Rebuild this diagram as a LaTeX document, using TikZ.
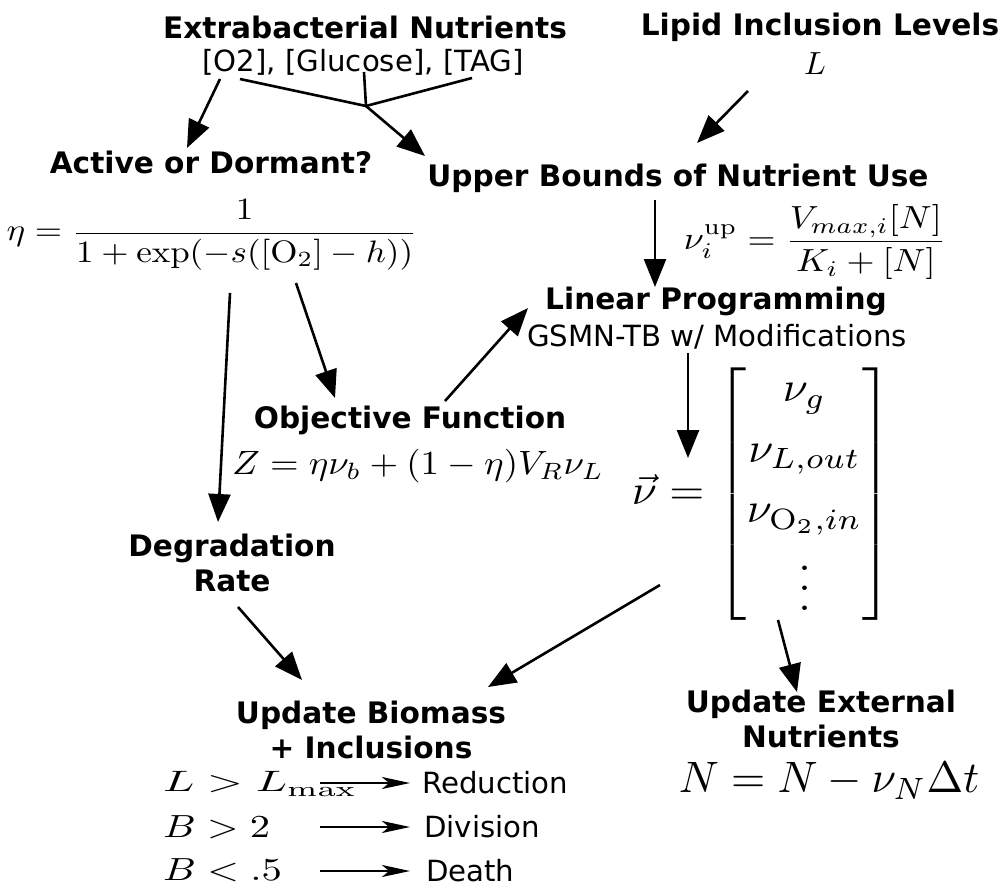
\RequirePackage{fix-cm}
\documentclass[tikz,border=0pt]{standalone}
\usepackage{amsmath}
\usepackage[no-math]{fontspec}
\setmainfont{DejaVu Sans}
\usetikzlibrary{arrows.meta}
\newcommand{\myvdots}{\vbox{\baselineskip4.7pt\lineskiplimit0pt\kern6pt\hbox{$.$}\hbox{$.$}\hbox{$.$}}}
\begin{document}
\begin{tikzpicture}[x=1pt,y=-1pt,
  hd/.style={font=\fontsize{29.6}{35}\selectfont\bfseries, align=center, inner sep=0pt},
  tx/.style={font=\fontsize{29.2}{35}\selectfont, inner sep=0pt},
  mth/.style={inner sep=0pt, font=\fontsize{10}{12}\selectfont},
  arr/.style={line width=2.6pt, -{Triangle[length=28pt,width=22pt]}},
  sarr/.style={line width=2.6pt, -{Stealth[length=28pt,width=12pt,inset=7pt]}}]
\useasboundingbox (0,0) rectangle (999,888);
% texts
\node[hd] (extra) at (365,27) {Extrabacterial Nutrients};
\node[tx] (conc) at (363,62) {[O2], [Glucose], [TAG]};
\node[hd] (lipid) at (820,27) {Lipid Inclusion Levels};
\node[mth] (Lsym) at (815,64) {\scalebox{3.2}{$L$}};
\node[hd] (active) at (211,162) {Active or Dormant?};
\node[mth] (etaeq) at (212,235) {\scalebox{3.5}[3.1]{$\displaystyle\eta = \frac{1}{1+\exp(-s([\mathrm{O}_2]-h))}$}};
\node[hd] (upper) at (678,178) {Upper Bounds of Nutrient Use};
\node[mth] (nueq) at (815,242) {\scalebox{3.6}[3.2]{$\displaystyle\nu_i^{\mathrm{up}} = \frac{V_{max,i}[N]}{K_i+[N]}$}};
\node[hd] (lp) at (716,301) {Linear Programming};
\node[tx] (gsmn) at (717,337) {GSMN-TB w/ Modifications};
\node[hd] (obj) at (410,420) {Objective Function};
\node[mth] (zeq) at (418,466) {\scalebox{3.68}[3.37]{$Z = \eta\nu_b + (1-\eta)V_R\nu_L$}};
\node[mth] (nuvec) at (762,494) {\scalebox{4.5}[4.2]{\renewcommand{\arraystretch}{1.2}$\vec{\nu} = \begin{bmatrix}\nu_g\\ \nu_{L,out}\\ \nu_{\mathrm{O}_2,in}\\ \myvdots\end{bmatrix}$}};
\node[hd] (deg) at (232,563) {Degradation\\Rate};
\node[hd] (upbio) at (371,730) {Update Biomass\\+ Inclusions};
\node[hd] (upext) at (821,719) {Update External\\Nutrients};
\node[mth] (neq) at (829,781) {\scalebox{4.4}{$N = N - \nu_N\Delta t$}};
\node[mth,anchor=west] (c1) at (163,784) {\scalebox{4.6}[2.95]{$L > L_{\max}$}};
\node[mth,anchor=west] (c2) at (163,827) {\scalebox{4.05}[3.2]{$B > 2$}};
\node[mth,anchor=west] (c3) at (163,870) {\scalebox{4.07}[3.2]{$B < .5$}};
\node[tx,anchor=west] (r1) at (422,783) {Reduction};
\node[tx,anchor=west] (r2) at (424,827) {Division};
\node[tx,anchor=west] (r3) at (426,871) {Death};
% connector end points
\coordinate (o2s) at (220,79);
\coordinate (acte) at (187,148);
\coordinate (glcs) at (240,79);
\coordinate (tags) at (472,78);
\coordinate (mids) at (364,72);
\coordinate (fork) at (366,106);
\coordinate (upe) at (425,156);
\coordinate (ls) at (748,91);
\coordinate (lue) at (697,143);
\coordinate (ups) at (655,200);
\coordinate (lpe) at (655,287);
\coordinate (eta1) at (230,293);
\coordinate (dege) at (218,522);
\coordinate (eta2) at (296,283);
\coordinate (obje) at (335,398);
\coordinate (objs) at (445,401);
\coordinate (lpe2) at (528,308);
\coordinate (lps) at (688,353);
\coordinate (vece) at (688,458);
\coordinate (vecs) at (660,585);
\coordinate (bioe) at (488,687);
\coordinate (degs) at (238,607);
\coordinate (bioe2) at (302,680);
\coordinate (vecs2) at (778,620);
\coordinate (exte) at (797,692);
\coordinate (c1s) at (320,783);
\coordinate (c1e) at (410,783);
\coordinate (c2s) at (320,827);
\coordinate (c2e) at (410,827);
\coordinate (c3s) at (320,871);
\coordinate (c3e) at (410,871);
% connectors
\draw[arr] (o2s) -- (acte);
\draw[line width=2.6pt] (glcs) -- (fork) -- (tags);
\draw[line width=2.6pt] (mids) -- (fork);
\draw[arr] (fork) -- (upe);
\draw[arr] (ls) -- (lue);
\draw[arr] (ups) -- (lpe);
\draw[arr] (eta1) -- (dege);
\draw[arr] (eta2) -- (obje);
\draw[arr] (objs) -- (lpe2);
\draw[arr] (lps) -- (vece);
\draw[arr] (vecs) -- (bioe);
\draw[arr] (degs) -- (bioe2);
\draw[arr] (vecs2) -- (exte);
\draw[sarr] (c1s) -- (c1e);
\draw[sarr] (c2s) -- (c2e);
\draw[sarr] (c3s) -- (c3e);
\end{tikzpicture}
\end{document}
